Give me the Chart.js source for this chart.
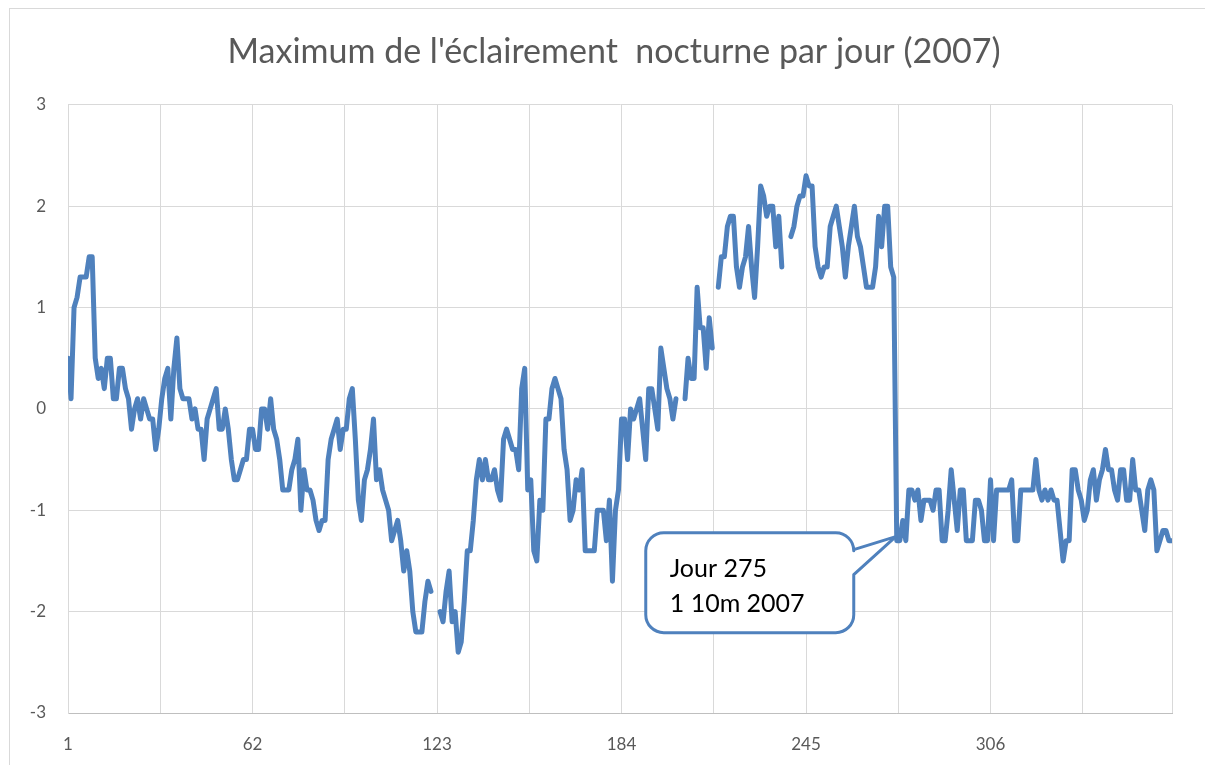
<!DOCTYPE html>
<html>
<head>
<meta charset="utf-8">
<title>Maximum de l'éclairement nocturne par jour (2007)</title>
<script src="https://cdn.jsdelivr.net/npm/chart.js@4.4.1/dist/chart.umd.min.js"></script>
<style>
  body { margin: 0; background: #fff; }
  #wrap { position: relative; width: 1205px; height: 765px; overflow: hidden; }
  #frame { position: absolute; left: 9px; top: 8px; width: 1300px; height: 900px; border: 1px solid #d9d9d9; }
  #chart { position: absolute; left: 0; top: 0; }
</style>
</head>
<body>
<div id="wrap">
  <div id="frame"></div>
  <canvas id="chart" width="1205" height="765"></canvas>
</div>
<script>
// données
const chartTitle = "Maximum de l'éclairement  nocturne par jour (2007)";
const firstDay = 1;
const lastDay = 366;
const tickLabels = ['1', '62', '123', '184', '245', '306'];
const yMin = -3;
const yMax = 3;

// une valeur par jour, null = pas de mesure
const maxEclairement = [
  0.5, 0.1, 1.0, 1.1, 1.3, 1.3, 1.3, 1.5, 1.5, 0.5,
  0.3, 0.4, 0.2, 0.5, 0.5, 0.1, 0.1, 0.4, 0.4, 0.2,
  0.1, -0.2, 0.0, 0.1, -0.1, 0.1, 0.0, -0.1, -0.1, -0.4,
  -0.2, 0.1, 0.3, 0.4, -0.1, 0.4, 0.7, 0.2, 0.1, 0.1,
  0.1, -0.1, 0.0, -0.2, -0.2, -0.5, -0.1, 0.0, 0.1, 0.2,
  -0.2, -0.2, 0.0, -0.2, -0.5, -0.7, -0.7, -0.6, -0.5, -0.5,
  -0.2, -0.2, -0.4, -0.4, 0.0, 0.0, -0.2, 0.1, -0.2, -0.3,
  -0.5, -0.8, -0.8, -0.8, -0.6, -0.5, -0.3, -1.0, -0.6, -0.8,
  -0.8, -0.9, -1.1, -1.2, -1.1, -1.1, -0.5, -0.3, -0.2, -0.1,
  -0.4, -0.2, -0.2, 0.1, 0.2, -0.3, -0.9, -1.1, -0.7, -0.6,
  -0.4, -0.1, -0.7, -0.6, -0.8, -0.9, -1.0, -1.3, -1.2, -1.1,
  -1.3, -1.6, -1.4, -1.6, -2.0, -2.2, -2.2, -2.2, -1.9, -1.7,
  -1.8, null, null, -2.0, -2.1, -1.8, -1.6, -2.1, -2.0, -2.4,
  -2.3, -1.9, -1.4, -1.4, -1.1, -0.7, -0.5, -0.7, -0.5, -0.7,
  -0.7, -0.6, -0.8, -0.9, -0.3, -0.2, -0.3, -0.4, -0.4, -0.6,
  0.2, 0.4, -0.8, -0.7, -1.4, -1.5, -0.9, -1.0, -0.1, -0.1,
  0.2, 0.3, 0.2, 0.1, -0.4, -0.6, -1.1, -1.0, -0.7, -0.8,
  -0.6, -1.4, -1.4, -1.4, -1.4, -1.0, -1.0, -1.0, -1.3, -0.9,
  -1.7, -1.0, -0.8, -0.1, -0.1, -0.5, 0.0, -0.1, 0.0, 0.1,
  -0.2, -0.5, 0.2, 0.2, 0.0, -0.2, 0.6, 0.4, 0.2, 0.1,
  -0.1, 0.1, null, null, 0.1, 0.5, 0.3, 0.3, 1.2, 0.8,
  0.8, 0.4, 0.9, 0.6, null, 1.2, 1.5, 1.5, 1.8, 1.9,
  1.9, 1.4, 1.2, 1.4, 1.5, 1.8, 1.4, 1.1, 1.6, 2.2,
  2.1, 1.9, 2.0, 2.0, 1.6, 1.9, 1.4, null, null, 1.7,
  1.8, 2.0, 2.1, 2.1, 2.3, 2.2, 2.2, 1.6, 1.4, 1.3,
  1.4, 1.4, 1.8, 1.9, 2.0, 1.8, 1.6, 1.3, 1.6, 1.8,
  2.0, 1.7, 1.6, 1.4, 1.2, 1.2, 1.2, 1.4, 1.9, 1.6,
  2.0, 2.0, 1.4, 1.3, -1.3, -1.3, -1.1, -1.3, -0.8, -0.8,
  -0.9, -0.8, -1.1, -0.9, -0.9, -0.9, -1.0, -0.8, -0.8, -1.3,
  -1.3, -1.0, -0.6, -0.9, -1.2, -0.8, -0.8, -1.3, -1.3, -1.3,
  -0.9, -0.9, -1.0, -1.3, -1.3, -0.7, -1.3, -0.8, -0.8, -0.8,
  -0.8, -0.8, -0.7, -1.3, -1.3, -0.8, -0.8, -0.8, -0.8, -0.8,
  -0.5, -0.8, -0.9, -0.8, -0.9, -0.8, -0.9, -0.9, -1.2, -1.5,
  -1.3, -1.3, -0.6, -0.6, -0.8, -0.9, -1.1, -1.0, -0.7, -0.6,
  -0.9, -0.7, -0.6, -0.4, -0.6, -0.6, -0.8, -0.9, -0.6, -0.6,
  -0.9, -0.9, -0.5, -0.8, -0.8, -1.0, -1.2, -0.8, -0.7, -0.8,
  -1.4, -1.3, -1.2, -1.2, -1.3, -1.3
];

// bulle de commentaire
const calloutDay = 275;
const calloutLines = ['Jour 275', '1 10m 2007'];

const lineColor = '#4f81bd';
const gridColor = '#d9d9d9';
const textColor = '#595959';

Chart.defaults.font.family = 'Lato, "Open Sans", sans-serif';

const points = maxEclairement.map((v, i) => ({ x: firstDay + i, y: v }));

// lignes verticales toutes les 30,5 graduations (comme Excel)
const gridDays = [];
for (let d = firstDay; d < lastDay; d += 30.5) gridDays.push(d);
gridDays.push(lastDay);

// Excel centre le titre sur tout le cadre, pas seulement à gauche de la marge
const titleShift = {
  id: 'titleShift',
  afterLayout(chart) {
    chart.titleBlock.left += 56;
  }
};

const calloutPlugin = {
  id: 'callout',
  afterDatasetsDraw(chart) {
    const { ctx } = chart;
    const xs = chart.scales.x, ys = chart.scales.y;
    const ax = xs.getPixelForValue(calloutDay);
    const ay = ys.getPixelForValue(maxEclairement[calloutDay - firstDay]);
    const L = ax - 251, T = ay - 8, R = ax - 43, B = ay + 92, r = 18;

    ctx.save();
    ctx.beginPath();
    ctx.moveTo(L + r, T);
    ctx.lineTo(R - r, T);
    ctx.arcTo(R, T, R, T + r, r);
    ctx.lineTo(R, ay + 9);
    ctx.lineTo(ax - 1, ay - 4);
    ctx.lineTo(R, ay + 34);
    ctx.lineTo(R, B - r);
    ctx.arcTo(R, B, R - r, B, r);
    ctx.lineTo(L + r, B);
    ctx.arcTo(L, B, L, B - r, r);
    ctx.lineTo(L, T + r);
    ctx.arcTo(L, T, L + r, T, r);
    ctx.closePath();
    ctx.fillStyle = '#ffffff';
    ctx.fill();
    ctx.lineWidth = 3;
    ctx.lineJoin = 'round';
    ctx.strokeStyle = lineColor;
    ctx.stroke();

    ctx.fillStyle = '#000000';
    ctx.font = '25px Lato, "Open Sans", sans-serif';
    ctx.textBaseline = 'middle';
    ctx.textAlign = 'left';
    calloutLines.forEach((t, i) => ctx.fillText(t, L + 24, ay + 28 + i * 35));
    ctx.restore();
  }
};

new Chart(document.getElementById('chart'), {
  type: 'line',
  data: {
    datasets: [{
      label: 'Maximum',
      data: points,
      borderColor: lineColor,
      borderWidth: 5,
      pointRadius: 0,
      tension: 0,
      spanGaps: false,
      borderJoinStyle: 'round',
      borderCapStyle: 'round'
    }]
  },
  options: {
    responsive: false,
    animation: false,
    layout: { padding: { left: 0, right: 33, top: 0, bottom: 0 } },
    plugins: {
      legend: { display: false },
      tooltip: { enabled: false },
      title: {
        display: true,
        text: chartTitle,
        color: textColor,
        font: { size: 34, weight: 'normal' },
        padding: { top: 32, bottom: 32 }
      }
    },
    scales: {
      x: {
        type: 'linear',
        min: firstDay,
        max: lastDay,
        afterBuildTicks: (scale) => { scale.ticks = gridDays.map(v => ({ value: v })); },
        afterFit: (scale) => { scale.height = 52; },
        grid: { color: gridColor, drawTicks: false },
        border: { color: '#bfbfbf' },
        ticks: {
          autoSkip: false,
          maxRotation: 0,
          padding: 21,
          color: textColor,
          font: { size: 17 },
          callback: (v) => tickLabels.includes(String(v)) ? String(v) : ''
        }
      },
      y: {
        min: yMin,
        max: yMax,
        afterFit: (scale) => { scale.width = 68; },
        grid: { color: gridColor, drawTicks: false },
        border: { color: gridColor },
        ticks: { stepSize: 1, padding: 22, color: textColor, font: { size: 17 } }
      }
    }
  },
  plugins: [titleShift, calloutPlugin]
});
</script>
</body>
</html>
